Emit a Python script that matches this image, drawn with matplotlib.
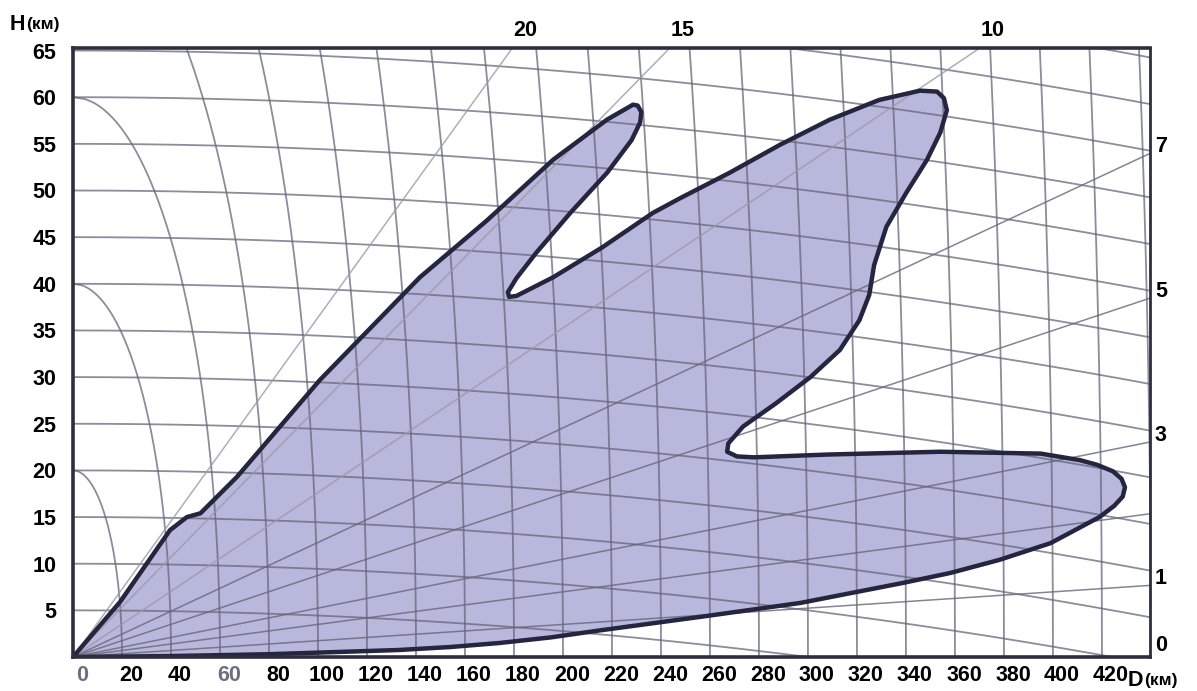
import numpy as np
import matplotlib
matplotlib.use('Agg')
import matplotlib.pyplot as plt
from matplotlib import font_manager
from matplotlib.transforms import ScaledTranslation

# ---------------- data ----------------
d_ticks = [0, 20, 40, 60, 80, 100, 120, 140, 160, 180, 200, 220, 240, 260, 280,
           300, 320, 340, 360, 380, 400, 420]
h_ticks = [5, 10, 15, 20, 25, 30, 35, 40, 45, 50, 55, 60, 65]
right_angle_labels = [0, 1, 3, 5, 7]
top_angle_labels = [20, 15, 10]
range_rings = list(range(20, 441, 20))
height_lines = list(range(5, 76, 5))
elev_rays = [1, 2, 3, 5, 7, 10, 15, 20]

coverage_D = [0, 40, 80, 133, 154, 174, 195, 215, 256, 297, 338, 358, 378, 399,
              419, 425, 428.5, 429.4, 428, 424.5, 418, 411, 395, 354, 308, 278,
              271, 267, 267.5, 273.5, 287, 301, 313, 321, 325, 327, 332, 340,
              348.6, 354, 356.7, 355.5, 352.7, 345.7, 329, 309, 288.6, 268, 248,
              236.7, 216, 196, 181, 178, 177.5, 181, 189, 203, 218, 228, 231.5,
              232, 230.5, 228.6, 218, 196, 169, 141.6, 100.8, 66.9, 52, 46.5,
              39.6, 19.2, 0]
coverage_H = [0, 0.1, 0.3, 0.75, 1.07, 1.5, 2.1, 2.85, 4.3, 5.8, 7.9, 9.0, 10.4,
              12.2, 15.0, 16.2, 17.2, 18.2, 19.1, 19.9, 20.6, 21.1, 21.8, 22.0,
              21.7, 21.4, 21.5, 22.0, 22.9, 24.7, 27.2, 30.0, 32.9, 36.1, 38.8,
              42.0, 46.1, 49.7, 53.3, 56.2, 58.6, 59.9, 60.6, 60.7, 59.7, 57.6,
              54.9, 51.9, 49.2, 47.6, 43.9, 40.7, 38.7, 38.6, 39.1, 40.6, 43.3,
              47.6, 51.9, 55.4, 57.3, 58.4, 59.1, 59.2, 57.6, 53.3, 46.8, 40.7,
              29.7, 19.3, 15.4, 15.0, 13.6, 5.9, 0]

# ---------------- style ----------------
names = {f.name for f in font_manager.fontManager.ttflist}
if 'Liberation Sans Narrow' in names:
    FONT = ['Liberation Sans Narrow', 'DejaVu Sans']
    FS = 19
else:
    FONT = ['Liberation Sans', 'DejaVu Sans']
    FS = 15.5
plt.rcParams['font.family'] = FONT

XMAX, YMAX = 439.6, 65.27
TWO_KA = 18000.0  # earth-curvature factor for constant-height lines

fig = plt.figure(figsize=(11.97, 6.91), dpi=100)
ax = fig.add_axes([0.061, 0.0492, 0.8997, 0.8813])
ax.set_xlim(0, XMAX)
ax.set_ylim(0, YMAX)

# coverage area
ax.fill(coverage_D, coverage_H, color='#b8b7dc', lw=0, zorder=1)

grid_kw = dict(color='#66667a', lw=1.3, alpha=0.75, zorder=2)
# slant range rings
for R in range_rings:
    yy = np.linspace(0, min(R, YMAX + 1), 300)
    xx = np.sqrt(np.clip(R ** 2 - yy ** 2, 0, None))
    ax.plot(xx, yy, **grid_kw)
# constant height lines (earth curvature)
xs = np.linspace(0, XMAX, 400)
for h in height_lines:
    ax.plot(xs, h - xs ** 2 / TWO_KA, **grid_kw)
# elevation rays
for a in elev_rays:
    c = '#9a9aa8' if a >= 10 else '#66667a'
    ax.plot(xs, xs * np.tan(np.radians(a)), color=c, lw=1.1, alpha=0.8, zorder=2)

# outline
ax.plot(coverage_D, coverage_H, color='#25253f', lw=3.2, zorder=3,
        solid_joinstyle='round', solid_capstyle='round')

# spines
for s in ax.spines.values():
    s.set_color('#2e2e3c')
    s.set_linewidth(2.6)
    s.set_zorder(4)
ax.spines['right'].set_linewidth(2.0)

# ticks
ax.set_xticks(d_ticks)
ax.set_xticklabels([str(v) for v in d_ticks], fontsize=FS, fontweight='bold')
ax.set_yticks(h_ticks)
ax.set_yticklabels([str(v) for v in h_ticks], fontsize=FS, fontweight='bold')
ax.tick_params(length=0)
ax.tick_params(axis='x', pad=6)
ax.tick_params(axis='y', pad=12)
off = ScaledTranslation(9 / 100, 0, fig.dpi_scale_trans)
for lab in ax.get_xticklabels():
    lab.set_transform(lab.get_transform() + off)
    if lab.get_text() in ('0', '60'):
        lab.set_color('#6e6e80')

# axis titles
th = fig.text(10 / 1197, 1 - 24 / 691, 'H', fontsize=FS, fontweight='bold',
              va='center', ha='left')
fig.texts.append(None) if False else None
ax.annotate('(км)', xy=(1, 0.5), xycoords=th, xytext=(1, 0), textcoords='offset pixels',
            fontsize=FS - 3, fontweight='bold', va='center', ha='left',
            annotation_clip=False)
td = fig.text(1128 / 1197, 1 - 680 / 691, 'D', fontsize=FS, fontweight='bold',
              va='center', ha='left')
ax.annotate('(км)', xy=(1, 0.5), xycoords=td, xytext=(1, 0), textcoords='offset pixels',
            fontsize=FS - 3, fontweight='bold', va='center', ha='left',
            annotation_clip=False)

# elevation angle labels
for a in right_angle_labels:
    yv = XMAX * np.tan(np.radians(a))
    dy = 12 if a == 0 else 7
    ax.annotate(str(a), (XMAX, yv), xytext=(5, dy), textcoords='offset pixels',
                fontsize=FS, fontweight='bold', va='center', ha='left',
                annotation_clip=False)
for a in top_angle_labels:
    xv = YMAX / np.tan(np.radians(a))
    ax.annotate(str(a), (xv, YMAX), xytext=(13, 18), textcoords='offset pixels',
                fontsize=FS, fontweight='bold', va='center', ha='center',
                annotation_clip=False)

fig.savefig('out.png', dpi=100)
